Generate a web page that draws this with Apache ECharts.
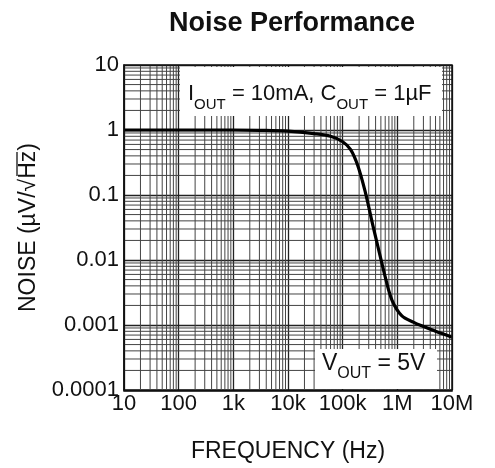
<!DOCTYPE html>
<html>
<head>
<meta charset="utf-8">
<script src="https://cdn.jsdelivr.net/npm/echarts@6/dist/echarts.min.js"></script>
<style>
  html, body { margin: 0; padding: 0; background: #fff; }
  #chart { width: 495px; height: 468px; }
</style>
</head>
<body>
<div id="chart"></div>
<script>
// noise curve
const freq  = [10, 100, 1000, 3000, 10000, 30000, 60000, 100000, 140000, 190000, 260000, 360000, 450000, 600000, 800000, 1200000, 2000000, 3000000, 5000000, 10000000];
const noise = [1.0, 1.0, 1.0, 0.99, 0.96, 0.88, 0.8, 0.66, 0.5, 0.28, 0.11, 0.033, 0.015, 0.0055, 0.0024, 0.0014, 0.0011, 0.00095, 0.0008, 0.00065];

const xTickLabels = ['10', '100', '1k', '10k', '100k', '1M', '10M'];
const yTickLabels = ['0.0001', '0.001', '0.01', '0.1', '1', '10'];
const xMin = 10, xMax = 1e7;
const yMin = 1e-4, yMax = 10;

const font = 'Liberation Sans, Arial, sans-serif';

// minor grid positions (2..9 of every decade)
function minorValues(lo, hi) {
    let out = [];
    for (let d = lo; d < hi - 1e-12; d *= 10) {
        for (let k = 2; k <= 9; k++) out.push(d * k);
    }
    return out;
}
const xMinor = minorValues(xMin, xMax);
const yMinor = minorValues(yMin, yMax);

function gridSeries(values, vertical) {
    return {
        type: 'custom',
        silent: true,
        z: 1,
        data: values,
        encode: vertical ? { x: 0 } : { y: 0 },
        renderItem: function (params, api) {
            let v = api.value(0);
            let a = vertical ? api.coord([v, yMin]) : api.coord([xMin, v]);
            let b = vertical ? api.coord([v, yMax]) : api.coord([xMax, v]);
            return {
                type: 'line',
                shape: { x1: a[0], y1: a[1], x2: b[0], y2: b[1] },
                style: { stroke: '#444', lineWidth: 1 }
            };
        }
    };
}

let option = {
    animation: false,
    title: {
        text: 'Noise Performance',
        left: 287,
        top: 5,
        textAlign: 'center',
        textStyle: { fontFamily: font, fontSize: 27, fontWeight: 'bold', color: '#111' }
    },
    grid: { left: 124, right: 43, top: 65, bottom: 77 },
    xAxis: {
        type: 'log',
        min: xMin,
        max: xMax,
        logBase: 10,
        name: 'FREQUENCY (Hz)',
        nameLocation: 'middle',
        nameGap: 50,
        nameTextStyle: { fontFamily: font, fontSize: 23, color: '#111' },
        axisLine: { lineStyle: { color: '#111', width: 1.5 } },
        axisTick: { show: false },
        axisLabel: {
            fontFamily: font, fontSize: 22, color: '#111', margin: 3,
            formatter: function (v) { return xTickLabels[Math.round(Math.log10(v)) - 1]; }
        },
        splitLine: { show: true, lineStyle: { color: '#222', width: 1.3 } }
    },
    yAxis: {
        type: 'log',
        min: yMin,
        max: yMax,
        logBase: 10,
        name: 'NOISE (µV/√Hz)',
        nameLocation: 'middle',
        nameRotate: 90,
        nameGap: 84,
        nameTextStyle: { fontFamily: font, fontSize: 23, color: '#111' },
        axisLine: { show: true, lineStyle: { color: '#111', width: 1.5 } },
        axisTick: { show: false },
        axisLabel: {
            fontFamily: font, fontSize: 22, color: '#111', margin: 5,
            formatter: function (v) { return yTickLabels[Math.round(Math.log10(v)) + 4]; }
        },
        splitLine: { show: true, lineStyle: { color: '#222', width: 1.3 } }
    },
    graphic: [
        // plot frame
        { type: 'rect', z: 50, shape: { x: 124, y: 65, width: 328, height: 326 },
          style: { fill: 'none', stroke: '#111', lineWidth: 1.5 } },
        // annotation boxes
        { type: 'rect', z: 40, shape: { x: 180, y: 67, width: 262, height: 49 }, style: { fill: '#fff' } },
        { type: 'text', z: 41, x: 188, y: 77,
          style: {
              text: '{m|I}{s|OUT}{m| = 10mA, C}{s|OUT}{m| = 1µF}',
              fill: '#111',
              rich: {
                  m: { fontFamily: font, fontSize: 22, lineHeight: 28, verticalAlign: 'bottom' },
                  s: { fontFamily: font, fontSize: 15, lineHeight: 28, verticalAlign: 'bottom', padding: [0, 0, -7, 0] }
              }
          } },
        { type: 'rect', z: 40, shape: { x: 315, y: 349, width: 122, height: 40 }, style: { fill: '#fff' } },
        { type: 'text', z: 41, x: 322, y: 347,
          style: {
              text: '{m|V}{s|OUT}{m| = 5V}',
              fill: '#111',
              rich: {
                  m: { fontFamily: font, fontSize: 23, lineHeight: 28, verticalAlign: 'bottom' },
                  s: { fontFamily: font, fontSize: 16, lineHeight: 28, verticalAlign: 'bottom', padding: [0, 0, -7, 0] }
              }
          } },
        // overline of the square root in the y-axis name
        { type: 'line', z: 50, shape: { x1: 17, y1: 152, x2: 17, y2: 176 },
          style: { stroke: '#111', lineWidth: 1.3 } }
    ],
    series: [
        gridSeries(xMinor, true),
        gridSeries(yMinor, false),
        {
            type: 'line',
            z: 30,
            data: freq.map((f, i) => [f, noise[i]]),
            smooth: 0.35,
            showSymbol: false,
            lineStyle: { color: '#000', width: 3.2 }
        }
    ]
};

let myChart = echarts.init(document.getElementById('chart'));
myChart.setOption(option);
</script>
</body>
</html>
